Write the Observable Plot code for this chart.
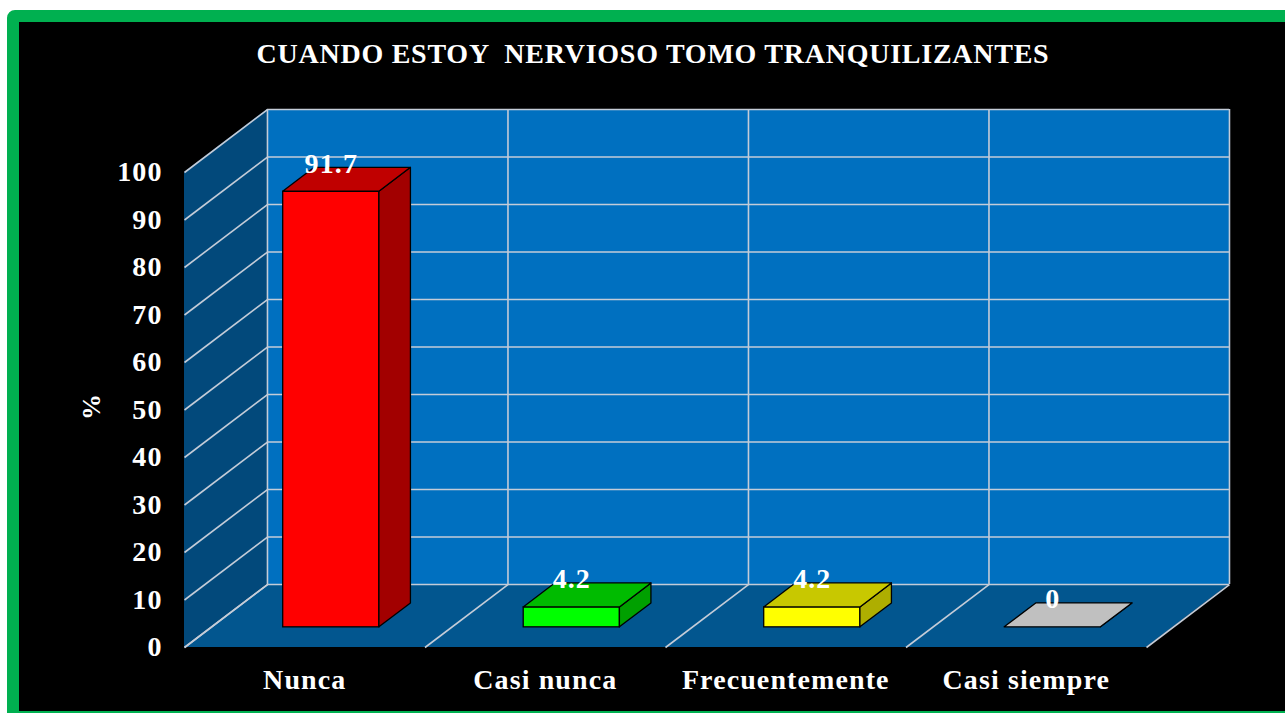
<!DOCTYPE html>
<html>
<head>
<meta charset="utf-8">
<script src="https://cdn.jsdelivr.net/npm/d3@7"></script>
<script src="https://cdn.jsdelivr.net/npm/@observablehq/plot@0.6"></script>
<style>
  html, body { margin: 0; padding: 0; background: #ffffff; width: 1285px; height: 713px; overflow: hidden; }
  #frame { position: absolute; left: 7px; top: 10px; width: 1300px; height: 689px;
           border: 12px solid #00B050; border-radius: 8px; background: #000000; }
  #title { position: absolute; left: 0; top: 18px; width: 1268px; text-align: center;
           font-family: "Liberation Serif", "Times New Roman", serif; font-weight: bold;
           font-size: 28px; line-height: 28px; color: #ffffff; white-space: pre; letter-spacing: 0.75px; }
  #chart { position: absolute; left: 0; top: 0; }
</style>
</head>
<body>
<div id="frame">
  <div id="title">CUANDO ESTOY  NERVIOSO TOMO TRANQUILIZANTES</div>
  <div id="chart"></div>
</div>
<script>
// ---- data ----
const categories = ["Nunca", "Casi nunca", "Frecuentemente", "Casi siempre"];
const values = [91.7, 4.2, 4.2, 0];
const valueLabels = ["91.7", "4.2", "4.2", "0"];
const frontColors = ["#FF0000", "#00FF00", "#FFFF00", "#C0C0C0"];
const topColors = ["#C00000", "#00BB00", "#C8C800", "#C0C0C0"];
const sideColors = ["#A20000", "#00A000", "#AEAE00", "#A0A0A0"];
const yTicks = [0, 10, 20, 30, 40, 50, 60, 70, 80, 90, 100];
const bandEdges = [0, 1, 2, 3, 4];
const axisTitle = "%";

// ---- 3D scene settings (in scale units) ----
const DEPTH_X = 0.345;   // full depth shift along x (category units)
const DEPTH_Y = 13.26;   // full depth shift along y (value units)
const BAR_W = 0.4, BAR_FRONT = 0.32, BAR_BACK = 0.70;
const backWall = "#0070C0", sideWall = "#02497B", floorColor = "#02568F", grid = "#C4CCD8";

const bars = categories.map((c, i) => ({
  i, c, v: values[i], label: valueLabels[i],
  xl: i + 0.5 - BAR_W / 2, xr: i + 0.5 + BAR_W / 2,
  front: frontColors[i], top: topColors[i], side: sideColors[i]
}));
const depths = [BAR_FRONT, BAR_BACK];
const topFaces = bars.flatMap(b => depths.map(d => ({
  i: b.i, y: b.v + d * DEPTH_Y, x1: b.xl + d * DEPTH_X, x2: b.xr + d * DEPTH_X, fill: b.top })));
const sideFaces = bars.flatMap(b => depths.map(d => ({
  i: b.i, x: b.xr + d * DEPTH_X, y1: d * DEPTH_Y, y2: b.v + d * DEPTH_Y, fill: b.side })));

const font = "'Liberation Serif', 'Times New Roman', serif";

const chart = Plot.plot({
  width: 1266, height: 689,
  marginLeft: 165, marginRight: 139, marginTop: 150, marginBottom: 64,
  x: { domain: [0, 4], axis: null },
  y: { domain: [0, 100] },
  color: { type: "identity" },
  style: { background: "transparent", color: "white", fontFamily: font, fontWeight: "bold", letterSpacing: "1.1px" },
  marks: [
    // back wall
    Plot.rect([0], { x1: DEPTH_X, x2: 4 + DEPTH_X, y1: DEPTH_Y, y2: 100 + DEPTH_Y, fill: backWall }),
    // left side wall
    Plot.areaY([{ x: 0, y1: 0, y2: 100 }, { x: DEPTH_X, y1: DEPTH_Y, y2: 100 + DEPTH_Y }],
      { x: "x", y1: "y1", y2: "y2", fill: sideWall }),
    // floor
    Plot.areaX([{ y: 0, x1: 0, x2: 4 }, { y: DEPTH_Y, x1: DEPTH_X, x2: 4 + DEPTH_X }],
      { y: "y", x1: "x1", x2: "x2", fill: floorColor }),
    // grid: back wall
    Plot.ruleY(yTicks, { y: d => d + DEPTH_Y, x1: DEPTH_X, x2: 4 + DEPTH_X, stroke: grid, strokeWidth: 1.6 }),
    Plot.ruleX(bandEdges, { x: d => d + DEPTH_X, y1: DEPTH_Y, y2: 100 + DEPTH_Y, stroke: grid, strokeWidth: 1.6 }),
    // grid: side wall
    Plot.link(yTicks, { x1: 0, y1: d => d, x2: DEPTH_X, y2: d => d + DEPTH_Y, stroke: grid, strokeWidth: 1.6 }),
    // grid: floor
    Plot.link(bandEdges, { x1: d => d, y1: 0, x2: d => d + DEPTH_X, y2: DEPTH_Y, stroke: grid, strokeWidth: 1.6 }),
    // bars
    Plot.rect(bars, { x1: b => b.xl + BAR_FRONT * DEPTH_X, x2: b => b.xr + BAR_FRONT * DEPTH_X,
      y1: BAR_FRONT * DEPTH_Y, y2: b => b.v + BAR_FRONT * DEPTH_Y, fill: "front", stroke: "#000", strokeWidth: 1.3 }),
    Plot.areaY(sideFaces, { x: "x", y1: "y1", y2: "y2", z: "i", fill: "fill", stroke: "#000", strokeWidth: 1.3 }),
    Plot.areaX(topFaces, { y: "y", x1: "x1", x2: "x2", z: "i", fill: "fill", stroke: "#000", strokeWidth: 1.3 }),
    // value labels
    Plot.text(bars, { x: b => b.i + 0.5 + BAR_FRONT * DEPTH_X, y: b => b.v + BAR_FRONT * DEPTH_Y,
      text: "label", lineAnchor: "bottom", dy: -19, fontSize: 28, fill: "white" }),
    // y axis
    Plot.axisY(yTicks, { anchor: "left", tickSize: 0, tickPadding: 22, fontSize: 28, fontWeight: "bold", tickFormat: d => String(d) }),
    // category labels
    Plot.text(bars, { x: b => b.i + 0.5, y: 0, text: "c", dy: 33, fontSize: 28, fill: "white" }),
    // y axis title
    Plot.text([axisTitle], { frameAnchor: "left", dx: -93, dy: 10, rotate: -90, fontSize: 26, fill: "white" })
  ]
});
document.getElementById("chart").appendChild(chart);
</script>
</body>
</html>
